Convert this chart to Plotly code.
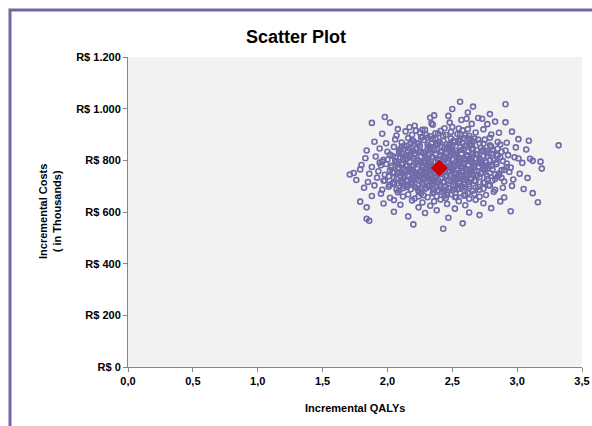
import plotly.graph_objects as go

# ---- Data ----
x_ticks = [0.0, 0.5, 1.0, 1.5, 2.0, 2.5, 3.0, 3.5]
x_tick_labels = ["0,0", "0,5", "1,0", "1,5", "2,0", "2,5", "3,0", "3,5"]
y_ticks = [0, 200, 400, 600, 800, 1000, 1200]
y_tick_labels = ["R$ 0", "R$ 200", "R$ 400", "R$ 600", "R$ 800", "R$ 1.000", "R$ 1.200"]

qalys_530 = [2.43, 2.20, 2.58]
costs_530 = [535, 552, 556]
qalys_560 = [1.84, 1.86, 2.16, 2.47, 2.71]
costs_560 = [574, 566, 583, 578, 588]
qalys_590 = [1.84, 2.05, 2.29, 2.38, 2.52, 2.63, 2.80, 2.95, 2.24]
costs_590 = [618, 601, 596, 607, 613, 598, 615, 603, 618]
qalys_620 = [1.79, 1.97, 2.10, 2.19, 2.27, 2.33, 2.41, 2.46, 2.55, 2.60, 2.68, 2.74, 2.87, 3.16, 2.36, 2.05]
costs_620 = [640, 633, 628, 645, 637, 624, 648, 631, 642, 626, 647, 634, 641, 638, 641, 646]
qalys_650 = [1.88, 1.95, 2.02, 2.08, 2.12, 2.16, 2.21, 2.24, 2.28, 2.31,
             2.35, 2.38, 2.42, 2.45, 2.49, 2.52, 2.56, 2.59, 2.63, 2.67,
             2.71, 2.76, 2.82, 2.90, 3.12, 2.26, 2.44, 2.53]
costs_650 = [662, 671, 655, 676, 660, 668, 652, 679, 665, 657,
             673, 661, 677, 654, 669, 658, 674, 663, 651, 670,
             659, 666, 678, 656, 673, 672, 663, 657]
qalys_680 = [1.82, 1.90, 1.96, 2.01, 2.05, 2.09, 2.12, 2.15, 2.18, 2.21,
             2.24, 2.27, 2.30, 2.32, 2.35, 2.38, 2.40, 2.43, 2.45, 2.48,
             2.51, 2.54, 2.57, 2.60, 2.63, 2.66, 2.70, 2.74, 2.78, 2.83,
             2.89, 2.96, 3.05, 2.19, 2.29, 2.41, 2.50, 2.58, 2.13, 2.36]
costs_680 = [694, 703, 686, 698, 709, 683, 692, 705, 688, 699,
             684, 707, 693, 701, 689, 696, 706, 685, 697, 691,
             704, 687, 700, 695, 708, 682, 698, 690, 703, 686,
             694, 701, 689, 707, 690, 700, 683, 695, 701, 686]
qalys_710 = [1.76, 1.85, 1.92, 1.97, 2.01, 2.04, 2.07, 2.10, 2.13, 2.15,
             2.18, 2.20, 2.22, 2.25, 2.27, 2.29, 2.31, 2.33, 2.35, 2.37,
             2.39, 2.41, 2.43, 2.45, 2.47, 2.49, 2.51, 2.53, 2.55, 2.57,
             2.60, 2.62, 2.65, 2.68, 2.71, 2.74, 2.77, 2.81, 2.85, 2.90,
             2.97, 3.08, 2.08, 2.16, 2.24, 2.34, 2.44, 2.54, 2.64, 2.12,
             2.30, 2.52]
costs_710 = [724, 716, 733, 721, 738, 712, 729, 718, 735, 723,
             714, 731, 726, 739, 717, 728, 734, 720, 713, 737,
             725, 730, 715, 736, 722, 719, 733, 727, 711, 738,
             724, 716, 731, 720, 735, 713, 728, 722, 737, 718,
             726, 732, 711, 738, 721, 727, 716, 734, 729, 718,
             740, 713]
qalys_740 = [1.71, 1.74, 1.79, 1.86, 1.93, 1.98, 2.02, 2.05, 2.08, 2.11,
             2.14, 2.16, 2.19, 2.21, 2.23, 2.26, 2.28, 2.30, 2.32, 2.34,
             2.36, 2.38, 2.40, 2.42, 2.44, 2.46, 2.48, 2.50, 2.52, 2.54,
             2.56, 2.58, 2.61, 2.63, 2.66, 2.69, 2.72, 2.75, 2.79, 2.83,
             2.88, 2.94, 3.02, 3.19, 2.10, 2.18, 2.25, 2.33, 2.47, 2.57,
             2.67, 2.77, 2.04, 2.13, 2.27, 2.53, 2.62, 2.86]
costs_740 = [745, 751, 765, 748, 758, 744, 762, 753, 767, 749,
             757, 742, 764, 751, 746, 760, 755, 768, 743, 759,
             750, 766, 747, 754, 763, 741, 757, 769, 748, 761,
             744, 752, 766, 756, 742, 759, 748, 764, 751, 745,
             762, 755, 748, 768, 741, 765, 753, 747, 760, 743,
             757, 769, 754, 766, 745, 752, 762, 749]
qalys_770 = [1.80, 1.88, 1.94, 1.99, 2.03, 2.06, 2.09, 2.12, 2.15, 2.17,
             2.20, 2.22, 2.24, 2.27, 2.29, 2.31, 2.33, 2.35, 2.37, 2.39,
             2.41, 2.43, 2.45, 2.47, 2.49, 2.51, 2.53, 2.55, 2.57, 2.59,
             2.62, 2.64, 2.67, 2.70, 2.73, 2.76, 2.80, 2.84, 2.89, 2.95,
             3.04, 3.12, 3.18, 2.08, 2.19, 2.26, 2.34, 2.44, 2.54, 2.65,
             2.78, 2.14, 2.32, 2.58, 2.72, 1.96, 2.48, 2.92]
costs_770 = [782, 774, 791, 786, 779, 797, 772, 788, 781, 795,
             776, 790, 784, 771, 798, 780, 787, 775, 793, 778,
             786, 799, 773, 789, 782, 777, 794, 785, 771, 791,
             779, 796, 783, 774, 788, 792, 778, 785, 797, 772,
             790, 798, 795, 786, 777, 792, 781, 773, 788, 796,
             783, 778, 790, 775, 787, 795, 780, 774]
qalys_800 = [1.83, 1.91, 1.97, 2.02, 2.06, 2.09, 2.12, 2.15, 2.18, 2.21,
             2.23, 2.26, 2.28, 2.30, 2.32, 2.35, 2.37, 2.39, 2.41, 2.44,
             2.46, 2.48, 2.50, 2.52, 2.55, 2.57, 2.60, 2.62, 2.65, 2.68,
             2.71, 2.74, 2.78, 2.82, 2.87, 2.93, 3.01, 3.10, 2.11, 2.20,
             2.29, 2.40, 2.51, 2.61, 2.72, 2.17, 2.34, 2.56, 2.66, 2.04,
             2.43, 2.84]
costs_800 = [808, 815, 802, 822, 811, 827, 805, 818, 813, 824,
             801, 816, 829, 807, 820, 812, 825, 803, 817, 809,
             828, 814, 806, 821, 811, 826, 804, 819, 813, 823,
             808, 816, 827, 801, 812, 820, 807, 806, 825, 810,
             819, 804, 828, 815, 802, 821, 813, 806, 824, 817,
             809, 822]
qalys_830 = [1.84, 1.94, 2.00, 2.05, 2.09, 2.13, 2.16, 2.19, 2.22, 2.25,
             2.28, 2.31, 2.33, 2.36, 2.38, 2.41, 2.44, 2.47, 2.50, 2.53,
             2.56, 2.59, 2.62, 2.65, 2.69, 2.72, 2.76, 2.80, 2.85, 2.91,
             2.99, 3.07, 3.32, 2.20, 2.35, 2.48, 2.60, 2.74, 2.11, 2.42,
             2.66, 2.88]
costs_830 = [838, 846, 833, 852, 841, 857, 836, 848, 843, 855,
             831, 845, 852, 839, 858, 834, 847, 842, 856, 837,
             851, 844, 833, 859, 840, 849, 836, 853, 845, 838,
             850, 842, 858, 835, 848, 843, 856, 840, 852, 837,
             846, 833]
qalys_860 = [1.90, 1.99, 2.06, 2.11, 2.16, 2.20, 2.24, 2.28, 2.31, 2.34,
             2.37, 2.40, 2.43, 2.46, 2.49, 2.52, 2.55, 2.58, 2.62, 2.66,
             2.70, 2.74, 2.79, 2.85, 2.92, 3.01, 3.09, 2.26, 2.38, 2.51,
             2.64, 2.18]
costs_860 = [872, 866, 881, 869, 886, 875, 863, 879, 888, 867,
             883, 871, 877, 862, 885, 870, 878, 866, 884, 873,
             880, 864, 887, 871, 868, 882, 876, 889, 865, 874,
             883, 869]
qalys_890 = [1.96, 2.07, 2.14, 2.19, 2.25, 2.29, 2.33, 2.37, 2.41, 2.45,
             2.49, 2.54, 2.58, 2.63, 2.68, 2.74, 2.80, 2.86, 2.96, 2.22,
             2.39, 2.60]
costs_890 = [903, 896, 912, 899, 907, 918, 893, 905, 914, 898,
             910, 902, 916, 895, 908, 920, 900, 907, 911, 915,
             904, 897]
qalys_920 = [2.02, 2.08, 2.17, 2.27, 2.34, 2.35, 2.44, 2.48, 2.55, 2.62,
             2.65, 2.77, 2.83, 2.91, 2.21, 2.50]
costs_920 = [946, 921, 928, 918, 943, 938, 924, 946, 923, 921,
             941, 940, 950, 947, 934, 929]
qalys_950 = [1.88, 1.98, 2.33, 2.36, 2.61, 2.70, 2.73, 2.79, 2.47, 2.57]
costs_950 = [945, 968, 965, 974, 961, 964, 961, 979, 972, 956]
qalys_980 = [2.50, 2.66, 2.56, 2.91, 2.62]
costs_980 = [999, 1008, 1027, 1017, 985]

# extra simulations in the dense core of the cloud
qalys_core = [2.07, 2.23, 2.39, 2.55, 2.71, 2.15, 2.31, 2.47, 2.63, 2.79,
              2.11, 2.27, 2.43, 2.59, 2.75, 2.19, 2.35, 2.51, 2.67, 2.83,
              2.05, 2.21, 2.37, 2.53, 2.69, 2.13, 2.29, 2.45, 2.61, 2.77,
              2.09, 2.25, 2.41, 2.57, 2.73, 2.17, 2.33, 2.49, 2.65, 2.81,
              2.03, 2.19, 2.35, 2.51, 2.67, 2.11, 2.27, 2.43, 2.59, 2.75,
              2.07, 2.23, 2.39, 2.55, 2.71, 2.15, 2.31, 2.47, 2.63, 2.79,
              2.13, 2.29, 2.45, 2.61, 2.77, 2.21, 2.37, 2.53, 2.69, 2.85,
              2.09, 2.25, 2.41, 2.57, 2.73, 2.17, 2.33, 2.49, 2.65, 2.81,
              2.15, 2.31, 2.47, 2.63, 2.79, 2.23, 2.39, 2.55, 2.71, 2.87,
              2.19, 2.35, 2.51, 2.67, 2.27, 2.43, 2.59, 2.75, 2.30, 2.56,
              2.02, 2.18, 2.34, 2.50, 2.66, 2.10, 2.26, 2.42, 2.58, 2.74,
              2.36, 2.44, 2.52, 2.60, 2.68, 2.32, 2.40, 2.48, 2.56, 2.64,
              1.95, 2.00, 2.86, 2.92, 2.98, 1.98, 2.90, 2.24, 2.46, 2.62,
              2.20, 2.28, 2.36, 2.44, 2.52, 2.60, 2.68, 2.76, 2.84, 2.12,
              2.16, 2.24, 2.32, 2.40, 2.48, 2.56, 2.64, 2.72, 2.80, 2.88]
costs_core = [687, 692, 684, 690, 686, 697, 701, 694, 699, 703,
              712, 709, 716, 707, 714, 723, 719, 726, 721, 728,
              733, 738, 731, 736, 740, 744, 748, 742, 746, 739,
              752, 756, 750, 758, 754, 763, 760, 767, 761, 765,
              772, 776, 771, 778, 774, 784, 780, 787, 782, 779,
              793, 797, 791, 799, 795, 806, 802, 808, 804, 800,
              814, 818, 812, 820, 816, 826, 822, 829, 824, 819,
              834, 838, 832, 840, 836, 846, 843, 849, 845, 841,
              856, 860, 853, 862, 858, 867, 864, 871, 866, 861,
              878, 882, 876, 884, 889, 893, 886, 880, 898, 902,
              705, 727, 745, 762, 789, 812, 831, 851, 725, 770,
              676, 681, 689, 668, 695, 853, 872, 862, 880, 858,
              781, 803, 742, 788, 812, 722, 763, 660, 667, 673,
              760, 795, 725, 815, 748, 735, 808, 776, 792, 845,
              704, 742, 767, 801, 836, 717, 755, 790, 826, 732]

mean_qaly = [2.40]
mean_cost = [770]

bands_q = [qalys_530, qalys_560, qalys_590, qalys_620, qalys_650, qalys_680,
           qalys_710, qalys_740, qalys_770, qalys_800, qalys_830, qalys_860,
           qalys_890, qalys_920, qalys_950, qalys_980, qalys_core]
bands_c = [costs_530, costs_560, costs_590, costs_620, costs_650, costs_680,
           costs_710, costs_740, costs_770, costs_800, costs_830, costs_860,
           costs_890, costs_920, costs_950, costs_980, costs_core]
all_q, all_c = [], []
for q, c in zip(bands_q, bands_c):
    n = min(len(q), len(c))
    all_q.extend(q[:n])
    all_c.extend(c[:n])

FONT = "Liberation Sans, Arial, sans-serif"
AXIS_COL = "#868686"

fig = go.Figure()
fig.add_trace(go.Scatter(
    x=all_q, y=all_c, mode="markers",
    marker=dict(symbol="circle-open", size=5, color="#625DA0",
                line=dict(width=1.6, color="#625DA0")),
    opacity=0.9, showlegend=False, hoverinfo="skip"))
fig.add_trace(go.Scatter(
    x=mean_qaly, y=mean_cost, mode="markers",
    marker=dict(symbol="diamond", size=13, color="#CC0000",
                line=dict(width=0)),
    showlegend=False))

fig.update_layout(
    width=592, height=426,
    margin=dict(l=128, r=10, t=57, b=59, autoexpand=False),
    paper_bgcolor="white", plot_bgcolor="#F2F2F2",
    font=dict(family=FONT, size=11, color="#000000"),
    xaxis=dict(range=[0, 3.5], tickvals=x_ticks, ticktext=x_tick_labels,
               showgrid=False, zeroline=False, showline=True,
               linecolor=AXIS_COL, linewidth=1, ticks="outside",
               ticklen=4, tickcolor=AXIS_COL, automargin=False,
               tickfont=dict(family=FONT, size=11, weight="bold")),
    yaxis=dict(range=[0, 1200], tickvals=y_ticks, ticktext=y_tick_labels,
               showgrid=False, zeroline=False, automargin=False,
               showline=True, linecolor=AXIS_COL, linewidth=1,
               ticks="outside", ticklen=4, tickcolor=AXIS_COL,
               tickfont=dict(family=FONT, size=11, weight="bold")),
    annotations=[
        dict(text="Scatter Plot", xref="paper", yref="paper",
             x=(296 - 128) / 454, y=(367 - 37) / 310,
             xanchor="center", yanchor="middle", showarrow=False,
             font=dict(family=FONT, size=18, weight="bold")),
        dict(text="Incremental QALYs", xref="paper", yref="paper",
             x=0.5, y=(367 - 408) / 310, xanchor="center",
             yanchor="middle", showarrow=False,
             font=dict(family=FONT, size=11, weight="bold")),
        dict(text="Incremental Costs<br>( in Thousands)", xref="paper",
             yref="paper", x=(50 - 128) / 454, y=0.5, textangle=-90,
             xanchor="center", yanchor="middle", showarrow=False,
             font=dict(family=FONT, size=11, weight="bold")),
    ],
    shapes=[dict(type="rect", xref="paper", yref="paper",
                 x0=(10 - 128) / 454, x1=(640 - 128) / 454,
                 y0=(367 - 460) / 310, y1=(367 - 10) / 310,
                 line=dict(color="#7266A6", width=3),
                 fillcolor="rgba(0,0,0,0)", layer="below")],
)

fig.write_html(
    "out.html",
    config={"displayModeBar": False},
    post_script="document.body.style.margin='0';document.body.style.padding='0';"
                "document.body.style.overflow='hidden';",
)
